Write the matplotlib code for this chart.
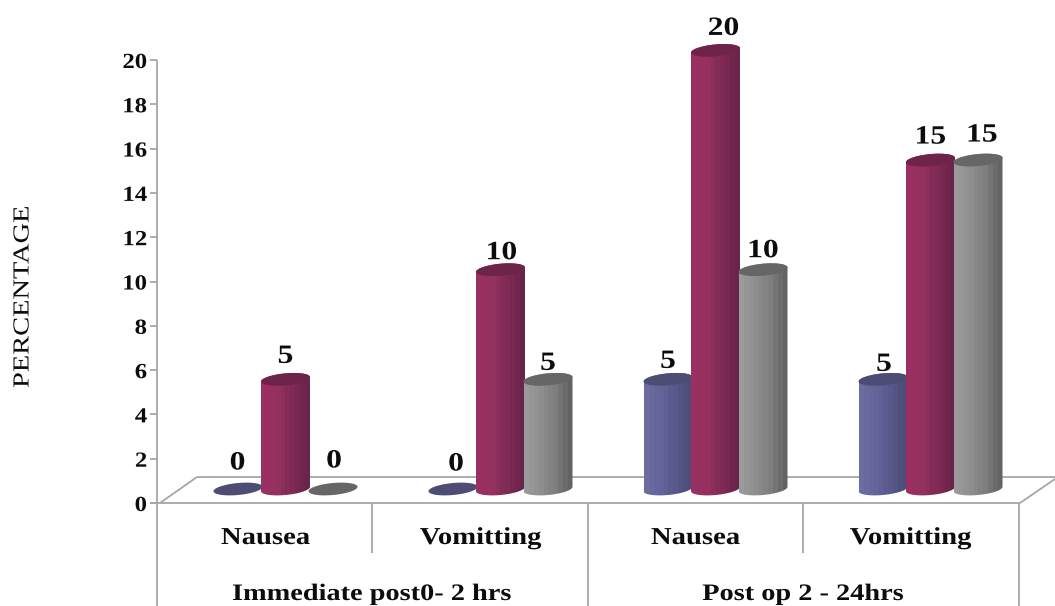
import numpy as np
import matplotlib
matplotlib.use("Agg")
import matplotlib.pyplot as plt
from matplotlib.colors import LinearSegmentedColormap
from matplotlib.patches import Polygon
from matplotlib.patheffects import AbstractPathEffect
from matplotlib.transforms import Affine2D

plt.rcParams['font.family'] = ['Liberation Serif', 'DejaVu Serif']

categories = ["Nausea", "Vomitting", "Nausea", "Vomitting"]
periods = ["Immediate post0- 2 hrs", "Post op 2 - 24hrs"]
series_a = [0, 0, 5, 5]
series_b = [5, 10, 20, 15]
series_c = [0, 5, 10, 15]
y_ticks = [0, 2, 4, 6, 8, 10, 12, 14, 16, 18, 20]

W, H = 1055, 606
PX = 22.15             # pixels per percentage point on the y axis
Y0 = 503               # pixel row of the zero line
FIRST = 285.5          # centre of the first cluster
STEP = 215             # cluster spacing
OFFSET = 47.5          # bar spacing inside a cluster
A = 24.5               # cylinder half width
B = 6.0                # ellipse half height
TILT = 2.2             # ellipse slope
BASE = 14 / PX         # lift of the cylinders above the front floor edge
SCALE = 0.99           # bars sit slightly further back than the axis plane

styles = [
    (["#6c6ca0", "#64649a", "#58588a", "#4d4d78"], "#4c4c74"),
    (["#9a3061", "#93305e", "#7f2a54", "#69244b"], "#6e2449"),
    (["#9a9a9a", "#8e8e8e", "#7e7e7e", "#636363"], "#666666"),
]
GRID = "#a6a6a6"
INK = "#0c0c0c"


class Widen(AbstractPathEffect):
    """Draw text wider along its own baseline, keeping its height."""

    def __init__(self, factor, anchor="center"):
        super().__init__()
        self.factor = factor
        self.anchor = anchor

    def draw_path(self, renderer, gc, tpath, affine, rgbFace=None):
        box = tpath.get_extents()
        pivot = box.x1 if self.anchor == "right" else (box.x0 + box.x1) / 2
        wide = Affine2D().translate(-pivot, 0).scale(self.factor, 1).translate(pivot, 0) + affine
        renderer.draw_path(gc, tpath, wide, rgbFace)


fig = plt.figure(figsize=(W / 100, H / 100), dpi=100)
ax = fig.add_axes([0, 0, 1, 1])
ax.axis("off")


def py(p):
    """Pixel row to data units."""
    return (Y0 - p) / PX


def cylinder(cx, value, colors, top_color, z):
    top = BASE + value * SCALE
    t = np.linspace(0, 2 * np.pi, 80)
    ex = cx + A * np.cos(t)
    ey = (B * np.sin(t) + TILT * np.cos(t)) / PX
    if value > 0:
        t_low = np.linspace(np.pi, 2 * np.pi, 40)
        bx = cx + A * np.cos(t_low)
        by = BASE + (B * np.sin(t_low) + TILT * np.cos(t_low)) / PX
        t_up = np.linspace(0, np.pi, 40)
        ux = cx + A * np.cos(t_up)
        uy = top + (B * np.sin(t_up) + TILT * np.cos(t_up)) / PX
        body = Polygon(np.column_stack([np.r_[bx, ux], np.r_[by, uy]]),
                       closed=True, transform=ax.transData, fc="none", ec="none")
        ax.add_patch(body)
        cmap = LinearSegmentedColormap.from_list("shade", colors)
        grad = np.linspace(0, 1, 10)[None, :]
        im = ax.imshow(grad, cmap=cmap, aspect="auto", zorder=z,
                       extent=(cx - A, cx + A, BASE - 1, top + 1),
                       interpolation="nearest")
        im.set_clip_path(body)
    ax.fill(ex, top + ey, color=top_color, lw=0, zorder=z + 0.5)


# floor and frame
lines = [
    ([157, 157], [60, 606]),
    ([150, 1020], [503, 503]),
    ([160, 197], [503, 477]),
    ([197, 1055], [477, 477]),
    ([1020, 1055], [503, 479]),
    ([372, 372], [503, 553]),
    ([588, 588], [503, 606]),
    ([803, 803], [503, 553]),
    ([1019, 1019], [503, 606]),
]
for xs, ys in lines:
    ax.plot(xs, [py(v) for v in ys], color=GRID, lw=1.3, zorder=1, solid_capstyle="butt")
for v in y_ticks:
    ax.plot([150, 157], [v, v], color=GRID, lw=1.3, zorder=1, solid_capstyle="butt")
    ax.text(147, v - 3 / PX, str(v), ha="right", va="center", fontsize=15.5,
            fontweight="bold", color=INK, path_effects=[Widen(1.15, "right")])

# cylinders and their value labels
nudges = {(0, 0): (-0.5, 2), (0, 1): (0, -1), (0, 2): (1, 4),
          (1, 0): (3, 1), (1, 1): (1, -7), (1, 2): (0, -8),
          (2, 0): (0, -6), (2, 1): (8, -2), (2, 2): (0, -5),
          (3, 0): (1, -9), (3, 1): (0, -1), (3, 2): (4, 1)}
for g in range(len(categories)):
    centre = FIRST + STEP * g
    for s, values in enumerate((series_a, series_b, series_c)):
        cx = centre + (s - 1) * OFFSET
        colors, top_color = styles[s]
        cylinder(cx, values[g], colors, top_color, 3 + s)
        dx, dy = nudges[(g, s)]
        ax.text(cx + dx, BASE + values[g] * SCALE + (24 + dy) / PX, str(values[g]),
                ha="center", va="center", fontsize=19, fontweight="bold",
                color=INK, zorder=8, path_effects=[Widen(1.2)])
    ax.text(centre - 20, py(544), categories[g], ha="center", va="baseline",
            fontsize=17.5, fontweight="bold", color=INK, path_effects=[Widen(1.18)])

for i, label in enumerate(periods):
    ax.text([372, 803][i], py(600), label, ha="center", va="baseline",
            fontsize=17, fontweight="bold", color=INK, path_effects=[Widen(1.2)])

ax.text(23, py(297), "PERCENTAGE", rotation=90, ha="center", va="center",
        fontsize=16.5, color=INK, path_effects=[Widen(1.24)])

ax.set_xlim(0, W)
ax.set_ylim(py(H), py(0))
fig.savefig("out.png", dpi=100)
